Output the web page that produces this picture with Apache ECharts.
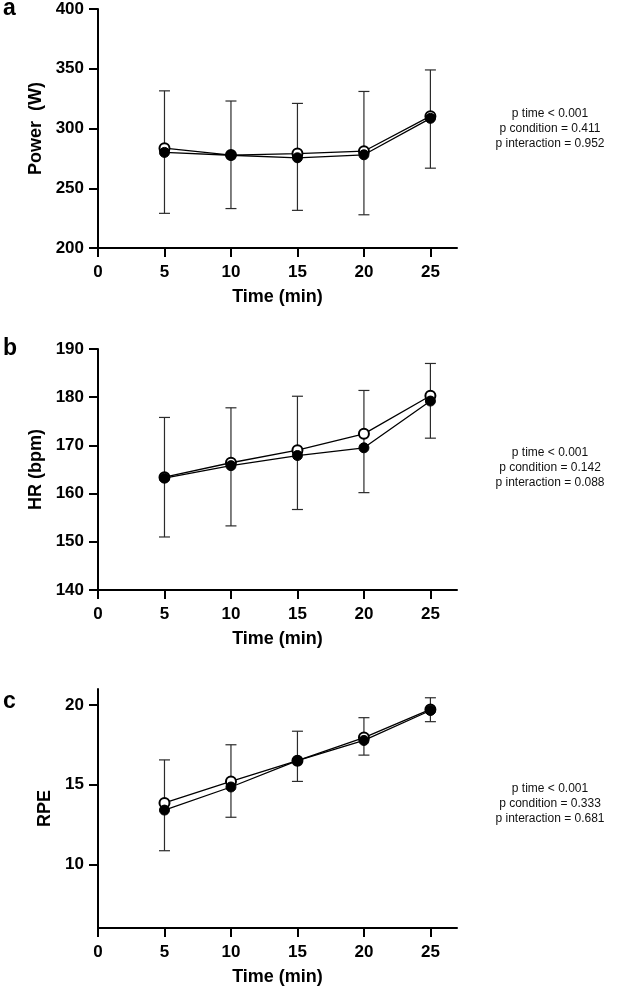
<!DOCTYPE html>
<html lang="en">
<head>
    <meta charset="UTF-8">
    <title>Power, HR and RPE over time</title>
    <script src="https://cdn.jsdelivr.net/npm/echarts@6.0.0/dist/echarts.min.js"></script>
    <style>
        html, body { margin: 0; padding: 0; background: #fff; }
        #chart { width: 617px; height: 994px; }
    </style>
</head>
<body>
    <div id="chart"></div>
<script>
    // time points (min)
    var time = [5, 10, 15, 20, 25];
    var xTicks = [0, 5, 10, 15, 20, 25];

    // a - power (W)
    var powerOpen = [283.5, 277.8, 279, 281, 310.3];
    var powerFilled = [280, 277.6, 275.5, 278, 308.5];
    var powerUpper = [331.5, 323, 321, 331, 349];
    var powerLower = [229, 233, 231.5, 227.8, 266.8];

    // b - heart rate (bpm)
    var hrOpen = [163.4, 166.4, 169, 172.4, 180.3];
    var hrFilled = [163.2, 165.8, 167.9, 169.5, 179.2];
    var hrUpper = [175.8, 177.8, 180.2, 181.4, 187];
    var hrLower = [151, 153.3, 156.7, 160.2, 171.5];

    // c - RPE
    var rpeOpen = [13.85, 15.2, 16.5, 17.95, 19.72];
    var rpeFilled = [13.4, 14.85, 16.5, 17.77, 19.65];
    var rpeUpper = [16.55, 17.5, 18.35, 19.2, 20.45];
    var rpeLower = [10.85, 12.95, 15.2, 16.85, 18.95];

    var powerTicks = [200, 250, 300, 350, 400];
    var hrTicks = [140, 150, 160, 170, 180, 190];
    var rpeTicks = [10, 15, 20];

    var statsA = ['p time < 0.001', 'p condition = 0.411', 'p interaction = 0.952'];
    var statsB = ['p time < 0.001', 'p condition = 0.142', 'p interaction = 0.088'];
    var statsC = ['p time < 0.001', 'p condition = 0.333', 'p interaction = 0.681'];

    var FONT = 'Liberation Sans, Arial, Helvetica, sans-serif';

    var panels = [
        { name: 'Power  (W)', top: 9, height: 239, min: 200, max: 400, ticks: powerTicks, gap: 52,
          open: powerOpen, filled: powerFilled, upper: powerUpper, lower: powerLower,
          letter: 'a', letterY: 12, stats: statsA, statsY: 129 },
        { name: 'HR (bpm)', top: 349, height: 241, min: 140, max: 190, ticks: hrTicks, gap: 52,
          open: hrOpen, filled: hrFilled, upper: hrUpper, lower: hrLower,
          letter: 'b', letterY: 352, stats: statsB, statsY: 468 },
        { name: 'RPE', top: 689, height: 239, min: 6, max: 21, ticks: rpeTicks, gap: 44,
          open: rpeOpen, filled: rpeFilled, upper: rpeUpper, lower: rpeLower,
          letter: 'c', letterY: 705, stats: statsC, statsY: 804 }
    ];

    function zip(xs, ys) {
        return xs.map(function (x, i) { return [x, ys[i]]; });
    }

    function errorBar(params, api) {
        var x = api.value(0);
        var lo = api.coord([x, api.value(1)]);
        var hi = api.coord([x, api.value(2)]);
        var cap = 5.5;
        var style = { stroke: '#2b2b2b', lineWidth: 1.2, fill: null };
        return {
            type: 'group',
            children: [
                { type: 'line', shape: { x1: lo[0], y1: lo[1], x2: hi[0], y2: hi[1] }, style: style },
                { type: 'line', shape: { x1: hi[0] - cap, y1: hi[1], x2: hi[0] + cap, y2: hi[1] }, style: style },
                { type: 'line', shape: { x1: lo[0] - cap, y1: lo[1], x2: lo[0] + cap, y2: lo[1] }, style: style }
            ]
        };
    }

    var grid = [], xAxis = [], yAxis = [], series = [], graphic = [];

    panels.forEach(function (p, i) {
        grid.push({ left: 98, top: p.top, width: 359, height: p.height });

        xAxis.push({
            gridIndex: i, type: 'value', min: 0, max: 27,
            name: 'Time (min)', nameLocation: 'middle', nameGap: 40,
            nameTextStyle: { fontFamily: FONT, fontWeight: 'bold', fontSize: 18, color: '#000' },
            axisLine: { show: true, onZero: false, lineStyle: { color: '#000', width: 2 } },
            axisTick: { show: true, inside: false, length: 9, lineStyle: { color: '#000', width: 2 }, customValues: xTicks },
            axisLabel: { margin: 16, fontFamily: FONT, fontWeight: 'bold', fontSize: 17, color: '#000', customValues: xTicks },
            splitLine: { show: false }
        });

        yAxis.push({
            gridIndex: i, type: 'value', min: p.min, max: p.max,
            name: p.name, nameLocation: 'middle', nameGap: p.gap,
            nameTextStyle: { fontFamily: FONT, fontWeight: 'bold', fontSize: 18, color: '#000' },
            axisLine: { show: true, onZero: false, lineStyle: { color: '#000', width: 2 } },
            axisTick: { show: true, inside: false, length: 9, lineStyle: { color: '#000', width: 2 }, customValues: p.ticks },
            axisLabel: { margin: 14, fontFamily: FONT, fontWeight: 'bold', fontSize: 17, color: '#000', customValues: p.ticks },
            splitLine: { show: false }
        });

        series.push({
            type: 'custom', xAxisIndex: i, yAxisIndex: i, z: 1,
            renderItem: errorBar,
            data: time.map(function (t, k) { return [t, p.lower[k], p.upper[k]]; })
        });
        series.push({
            type: 'line', xAxisIndex: i, yAxisIndex: i, z: 2,
            data: zip(time, p.open),
            symbol: 'circle', symbolSize: 10,
            lineStyle: { color: '#000', width: 1.3 },
            itemStyle: { color: '#fff', borderColor: '#000', borderWidth: 2 }
        });
        series.push({
            type: 'line', xAxisIndex: i, yAxisIndex: i, z: 3,
            data: zip(time, p.filled),
            symbol: 'circle', symbolSize: 10,
            lineStyle: { color: '#000', width: 1.3 },
            itemStyle: { color: '#000', borderColor: '#000', borderWidth: 1 }
        });

        graphic.push({
            type: 'text', left: 3, top: p.letterY - 15,
            style: { text: p.letter, font: 'bold 23px ' + FONT, fill: '#000' }
        });
        graphic.push({
            type: 'text', x: 550, y: p.statsY,
            style: {
                text: p.stats.join('\n'), font: '12px ' + FONT, fill: '#111',
                lineHeight: 15, align: 'center', verticalAlign: 'middle'
            }
        });
    });

    var chart = echarts.init(document.getElementById('chart'));
    chart.setOption({
        animation: false,
        grid: grid,
        xAxis: xAxis,
        yAxis: yAxis,
        series: series,
        graphic: graphic
    });
</script>
</body>
</html>
